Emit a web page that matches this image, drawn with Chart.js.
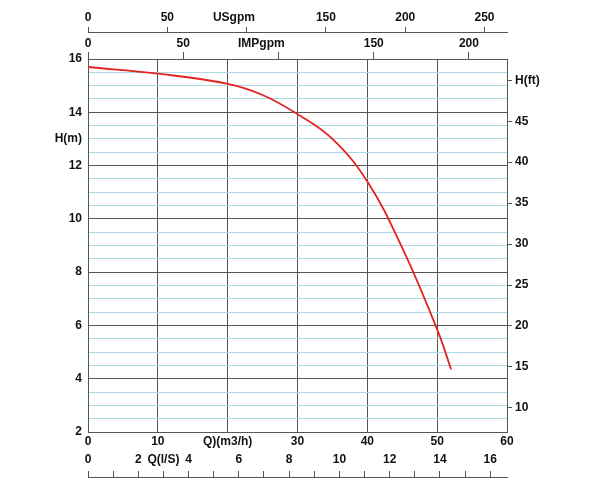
<!DOCTYPE html>
<html>
<head>
<meta charset="utf-8">
<script src="https://cdn.jsdelivr.net/npm/chart.js@4/dist/chart.umd.min.js"></script>
<style>
  html, body { margin: 0; padding: 0; background: #ffffff; }
  #wrap { width: 600px; height: 489px; position: relative; }
</style>
</head>
<body>
<div id="wrap"><canvas id="c"></canvas></div>
<script>
// ---- data ----
const flowM3h = [0, 10, 20, 25, 30, 35, 40, 45, 50, 52];
const headM   = [15.70, 15.45, 15.07, 14.65, 13.93, 13.00, 11.40, 8.91, 5.85, 4.35];

// axis ranges / tick sets
const qRange = [0, 60];          // m3/h
const hRange = [2, 16];          // m
const ftRange = [7.05, 52.6];    // ft (as printed on the right axis)
const lsMax = 60 / 3.6;          // l/s equivalent of 60 m3/h
const usgpmMax = 264.17;         // USgpm equivalent of 60 m3/h
const impgpmMax = 219.97;        // IMPgpm equivalent of 60 m3/h
const usgpmTicks = [0, 50, 100, 150, 200, 250];
const impgpmTicks = [0, 50, 100, 150, 200];
const usgpmTitle = { value: 92, text: 'USgpm' };
const impgpmTitle = { value: 91, text: 'IMPgpm' };

const dark = '#555555';
const light = '#acd9e6';
const txt = '#111111';
const font = { family: '"Liberation Sans", Arial, sans-serif', size: 12, weight: 'bold' };

const points = flowM3h.map((q, i) => ({ x: q, y: headM[i] }));

function topTicks(values, title) {
  return (scale) => {
    const t = values.map(v => ({ value: v }));
    t.push({ value: title.value });
    t.sort((a, b) => a.value - b.value);
    scale.ticks = t;
  };
}

new Chart(document.getElementById('c'), {
  type: 'line',
  data: {
    datasets: [{
      data: points,
      borderColor: '#e3231f',
      borderWidth: 1.8,
      pointRadius: 0,
      fill: false,
      tension: 0.4,
      xAxisID: 'x',
      yAxisID: 'y'
    }]
  },
  options: {
    responsive: true,
    maintainAspectRatio: false,
    animation: false,
    layout: { padding: { left: 28, right: 53, top: 10, bottom: 12 } },
    plugins: { legend: { display: false }, tooltip: { enabled: false } },
    scales: {
      x: {
        type: 'linear', position: 'bottom', weight: 1,
        min: qRange[0], max: qRange[1],
        ticks: { stepSize: 10, autoSkip: false, maxRotation: 0, padding: 2, font, color: txt,
                 callback: v => v === 20 ? 'Q)(m3/h)' : v },
        grid: { color: dark, lineWidth: 1, drawTicks: false },
        border: { display: true, color: dark },
        afterFit: s => { s.height = 20; }
      },
      ls: {
        type: 'linear', position: 'bottom', weight: 2,
        min: 0, max: lsMax,
        ticks: { stepSize: 1, includeBounds: false, autoSkip: false, maxRotation: 0, padding: 0, font, color: txt,
                 callback: v => v === 3 ? 'Q(l/S)' : (v % 2 === 0 ? v : '') },
        grid: { display: false, drawOnChartArea: false, drawTicks: false },
        border: { display: false },
        afterFit: s => { s.height = 18.5; }
      },
      lsTicks: {
        type: 'linear', position: 'bottom', weight: 3,
        min: 0, max: lsMax,
        ticks: { display: false, stepSize: 1, includeBounds: false, autoSkip: false },
        grid: { drawOnChartArea: false, drawTicks: true, tickLength: 6.5, color: dark },
        border: { display: false },
        afterFit: s => { s.height = 6.5; }
      },
      lsLine: {
        type: 'linear', position: 'bottom', weight: 4,
        min: 0, max: lsMax,
        ticks: { display: false },
        grid: { display: false, drawOnChartArea: false, drawTicks: false },
        border: { display: true, color: dark },
        afterFit: s => { s.height = 0; }
      },
      imp: {
        type: 'linear', position: 'top', weight: 1,
        min: 0, max: impgpmMax,
        afterBuildTicks: topTicks(impgpmTicks, impgpmTitle),
        ticks: { autoSkip: false, maxRotation: 0, padding: 1, font, color: txt,
                 callback: v => v === impgpmTitle.value ? impgpmTitle.text : (v === 100 ? '' : v) },
        grid: { drawOnChartArea: false, drawTicks: true, tickLength: 7,
                tickColor: c => (c.tick && c.tick.value === impgpmTitle.value) ? 'rgba(0,0,0,0)' : dark },
        border: { display: true, color: dark },
        afterFit: s => { s.height = 27; }
      },
      us: {
        type: 'linear', position: 'top', weight: 2,
        min: 0, max: usgpmMax,
        afterBuildTicks: topTicks(usgpmTicks, usgpmTitle),
        ticks: { autoSkip: false, maxRotation: 0, padding: 2, font, color: txt,
                 callback: v => v === usgpmTitle.value ? usgpmTitle.text : (v === 100 ? '' : v) },
        grid: { drawOnChartArea: false, drawTicks: true, tickLength: 5,
                tickColor: c => (c.tick && c.tick.value === usgpmTitle.value) ? 'rgba(0,0,0,0)' : dark },
        border: { display: true, color: dark },
        afterFit: s => { s.height = 22; }
      },
      y: {
        type: 'linear', position: 'left',
        min: hRange[0], max: hRange[1],
        ticks: { stepSize: 0.5, autoSkip: false, padding: 6, font, color: txt,
                 callback: v => v === 13 ? 'H(m)' : (v % 2 === 0 ? v : '') },
        grid: { drawTicks: false, lineWidth: 1,
                color: c => (c.tick && c.tick.value % 2 === 0) ? dark : light },
        border: { display: true, color: dark },
        afterFit: s => { s.width = 60; }
      },
      ft: {
        type: 'linear', position: 'right',
        min: ftRange[0], max: ftRange[1],
        ticks: { stepSize: 5, includeBounds: false, autoSkip: false, padding: 3, font, color: txt,
                 callback: v => v === 50 ? 'H(ft)' : v },
        grid: { drawOnChartArea: false, drawTicks: true, tickLength: 5, color: dark },
        border: { display: true, color: dark },
        afterFit: s => { s.width = 40; }
      }
    }
  }
});
</script>
</body>
</html>
